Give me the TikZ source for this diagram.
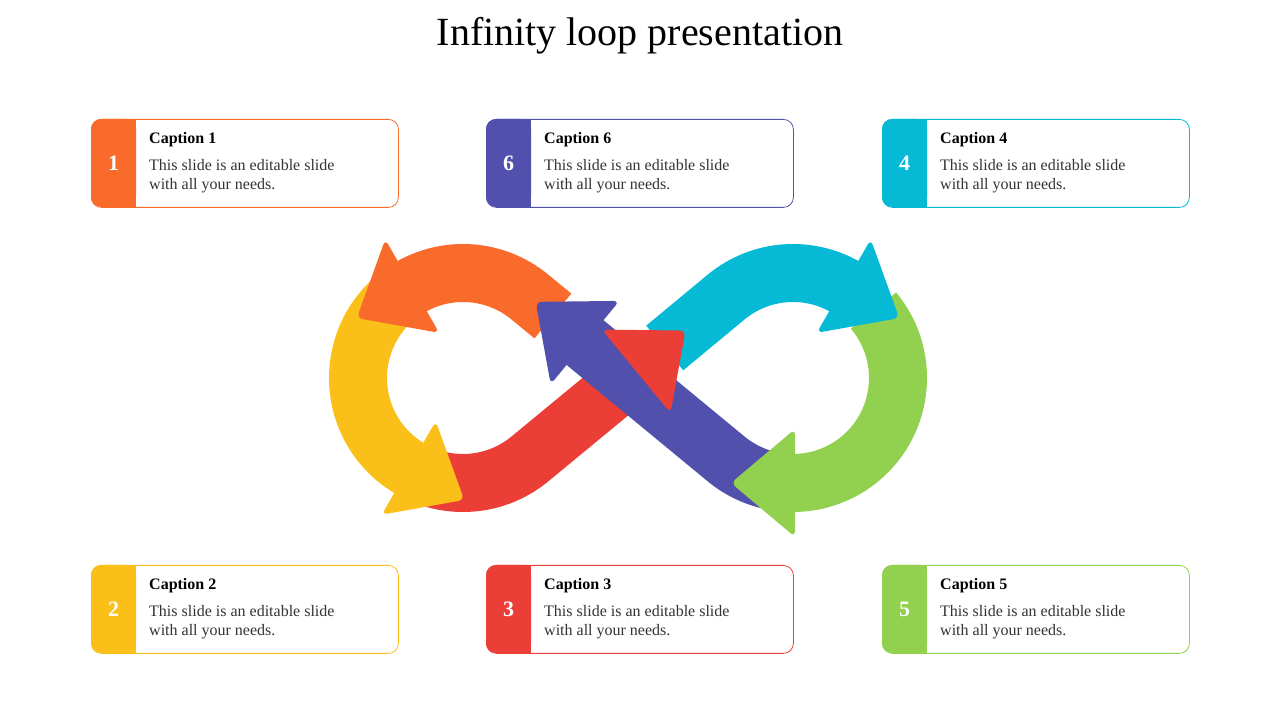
\documentclass[tikz,border=0pt]{standalone}
\usepackage{fontspec}
\setmainfont{Liberation Serif}
\usetikzlibrary{calc}
\definecolor{cor}{HTML}{F96B2B}
\definecolor{cyel}{HTML}{FBBF1A}
\definecolor{cred}{HTML}{EB3E36}
\definecolor{ccya}{HTML}{06BAD6}
\definecolor{cgre}{HTML}{92D050}
\definecolor{cpur}{HTML}{5151AD}
\definecolor{ctxt}{HTML}{333333}
\tikzset{band/.style={line width=58pt},
  capt/.style={anchor=west,font=\fontsize{16}{16}\selectfont\bfseries,inner sep=0},
  body/.style={anchor=north west,font=\fontsize{16}{19}\selectfont,text=ctxt,align=left,inner sep=0},
  numb/.style={font=\fontsize{22}{22}\selectfont\bfseries,text=white}}
\newcommand{\ahead}[3]{\fill[#1,rounded corners=6pt,shift={(#2)},rotate=#3] (-2,54) -- (62,0) -- (-2,-54) -- cycle;}
\newcommand{\capbox}[6]{%
  \node[draw=#3,rounded corners=10pt,minimum width=307pt,minimum height=88pt,anchor=north west,inner sep=0,line width=0.8pt] (#6) at (#1,#2) {};
  \fill[#3,rounded corners=10pt] (#1,#2) rectangle ++(45,-88);
  \fill[#3] (#1+20,#2) rectangle ++(25,-88);
  \node[numb] (#6n) at (#1+22.5,#2-44) {#4};
  \node[capt] (#6c) at (#1+58,#2-21) {#5};
  \node[body] (#6b) at (#1+58,#2-40) {This slide is an editable slide\\with all your needs.};}
\begin{document}
\begin{tikzpicture}[x=1pt,y=1pt]
\useasboundingbox (0,0) rectangle (1280,720);
\node[font=\fontsize{40}{40}\selectfont] (title) at (640,684) {Infinity loop presentation};
\capbox{91}{601}{cor}{1}{Caption 1}{c1}
\capbox{486}{601}{cpur}{6}{Caption 6}{c6}
\capbox{882}{601}{ccya}{4}{Caption 4}{c4}
\capbox{91}{155}{cyel}{2}{Caption 2}{c2}
\capbox{486}{155}{cred}{3}{Caption 3}{c3}
\capbox{882}{155}{cgre}{5}{Caption 5}{c5}
\coordinate (L) at (463,342);
\coordinate (R) at (793,342);
\draw[band,cor] (552.9,404) -- ($(L)+(50.5:105)$) arc[start angle=50.5,end angle=120,radius=105];
\draw[band,cyel] ($(L)+(124:105)$) arc[start angle=124,end angle=240,radius=105];
\draw[band,cred] ($(L)+(247:105)$) arc[start angle=247,end angle=309.5,radius=105] -- (637.7,350);
\draw[band,ccya] (664.7,372) -- ($(R)+(129.5:105)$) arc[start angle=129.5,end angle=60,radius=105];
\draw[band,cgre] ($(R)+(40:105)$) arc[start angle=40,end angle=-90,radius=105];
\draw[band,cpur] ($(R)+(-97:105)$) arc[start angle=-97,end angle=-129.5,radius=105] -- (583.5,378.7);
\ahead{cor}{$(L)+(120:105)$}{210}
\ahead{cyel}{$(L)+(240:105)$}{330}
\ahead{cred}{637.7,350}{39.5}
\ahead{ccya}{$(R)+(60:105)$}{-30}
\ahead{cgre}{$(R)+(-90:105)$}{180}
\ahead{cpur}{583.5,378.7}{140.5}
\end{tikzpicture}
\end{document}
